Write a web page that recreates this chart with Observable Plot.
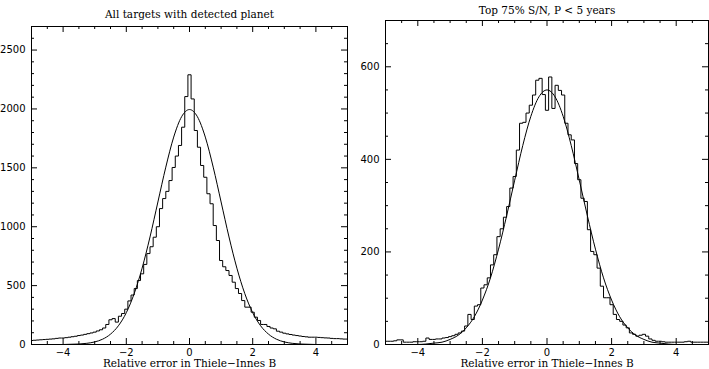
<!DOCTYPE html>
<html><head><meta charset="utf-8">
<script src="https://cdn.jsdelivr.net/npm/d3@7"></script>
<script src="https://cdn.jsdelivr.net/npm/@observablehq/plot@0.6"></script>
<style>
html,body{margin:0;padding:0;background:#fff;}
#wrap{position:relative;width:709px;height:369px;overflow:hidden;background:#fff;}
#wrap svg{position:absolute;top:0;}
</style></head><body><div id="wrap"></div>
<script>
// ---- data ----
const binCenters = [-5.0,-4.9,-4.8,-4.7,-4.6,-4.5,-4.4,-4.3,-4.2,-4.1,-4.0,-3.9,-3.8,-3.7,-3.6,-3.5,-3.4,-3.3,-3.2,-3.1,
  -3.0,-2.9,-2.8,-2.7,-2.6,-2.5,-2.4,-2.3,-2.2,-2.1,-2.0,-1.9,-1.8,-1.7,-1.6,-1.5,-1.4,-1.3,-1.2,-1.1,
  -1.0,-0.9,-0.8,-0.7,-0.6,-0.5,-0.4,-0.3,-0.2,-0.1,0.0,0.1,0.2,0.3,0.4,0.5,0.6,0.7,0.8,0.9,
  1.0,1.1,1.2,1.3,1.4,1.5,1.6,1.7,1.8,1.9,2.0,2.1,2.2,2.3,2.4,2.5,2.6,2.7,2.8,2.9,
  3.0,3.1,3.2,3.3,3.4,3.5,3.6,3.7,3.8,3.9,4.0,4.1,4.2,4.3,4.4,4.5,4.6,4.7,4.8,4.9,5.0];

const leftCounts = [34,36,38,40,42,44,46,48,52,55,55,58,62,66,70,76,80,86,92,98,
  105,115,125,140,170,210,220,190,240,263,300,370,420,475,543,600,680,772,830,911,
  1000,1154,1239,1300,1392,1503,1600,1690,1845,2105,2290,2085,1817,1675,1520,1420,1280,1195,1010,883,
  713,660,628,586,529,475,433,373,317,317,274,232,204,170,170,153,140,133,113,105,
  96,90,85,80,76,72,68,65,62,62,62,60,58,56,55,52,50,50,48,46,46];

const rightCounts = [7,7,7,8,10,10,5,5,5,6,6,6,7,14,11,11,12,12,14,15,
  17,19,22,25,29,40,65,54,83,86,122,129,144,172,194,233,250,275,298,338,
  363,420,478,480,500,517,539,571,575,540,506,578,510,560,549,539,478,453,442,391,
  356,316,309,248,201,194,165,126,101,101,86,65,54,50,42,36,25,22,18,20,
  22,18,12,9,7,7,6,5,5,5,5,5,5,6,7,5,5,5,5,5,5];

// fitted Gaussian curves
const fitX = [-5,-4.75,-4.5,-4.25,-4,-3.75,-3.5,-3.25,-3,-2.75,-2.5,-2.25,-2,-1.75,-1.5,-1.25,-1,-0.75,-0.5,-0.25,
  0,0.25,0.5,0.75,1,1.25,1.5,1.75,2,2.25,2.5,2.75,3,3.25,3.5,3.75,4,4.25,4.5,4.75,5];
const leftFit = [0,0,0,0,0,2,4,10,22,45,88,159,270,432,648,913,1210,1506,1761,1934,
  1995,1934,1761,1506,1210,913,648,432,270,159,88,45,22,10,4,2,0,0,0,0,0];
const rightFit = [0,0,0,0,0,1,3,5,11,20,36,60,96,144,206,278,355,430,493,535,
  550,535,493,430,355,278,206,144,96,60,36,20,11,5,3,1,0,0,0,0,0];

const titles = ["All targets with detected planet", "Top 75% S/N, P < 5 years"];
const xLabel = "Relative error in Thiele\u2212Innes B";
const xTickLabels = [-4, -2, 0, 2, 4];
const xMinorTicks = [-4.5,-3.5,-3,-2.5,-1.5,-1,-0.5,0.5,1,1.5,2.5,3,3.5,4.5];
const leftYTicks = [0, 500, 1000, 1500, 2000, 2500];
const leftYMinor = [100,200,300,400,600,700,800,900,1100,1200,1300,1400,1600,1700,1800,1900,2100,2200,2300,2400,2600];
const rightYTicks = [0, 200, 400, 600];
const rightYMinor = [50,100,150,250,300,350,450,500,550,650];

// ---- drawing ----
const fmt = d3.format("d");
function panel({counts, fit, yMax, yTicks, yMinor, title, width, mt, mb, ml, mr, titleDy}) {
  const H = 369;
  const fh = H - mt - mb, fw = width - ml - mr;
  const maj = 6, mnr = 3;
  const hist = binCenters.map((x, i) => ({x, y: counts[i]}));
  const curve = fitX.map((x, i) => ({x, y: fit[i]}));
  const yMajInner = yTicks.filter(v => v > 0);
  return Plot.plot({
    width, height: H, marginTop: mt, marginBottom: mb, marginLeft: ml, marginRight: mr,
    style: {fontFamily: "'DejaVu Sans', sans-serif", fontSize: "10px", background: "transparent", color: "black", overflow: "visible"},
    x: {domain: [-5, 5]},
    y: {domain: [0, yMax]},
    marks: [
      Plot.line(hist, {x: "x", y: "y", curve: "step", stroke: "black", strokeWidth: 1, clip: true}),
      Plot.line(curve, {x: "x", y: "y", curve: "monotone-x", stroke: "black", strokeWidth: 1, clip: true}),
      Plot.ruleX(xTickLabels, {insetTop: fh - maj, stroke: "black"}),
      Plot.ruleX(xTickLabels, {insetBottom: fh - maj, stroke: "black"}),
      Plot.ruleX(xMinorTicks, {insetTop: fh - mnr, stroke: "black"}),
      Plot.ruleX(xMinorTicks, {insetBottom: fh - mnr, stroke: "black"}),
      Plot.ruleY(yMajInner, {insetRight: fw - maj, stroke: "black"}),
      Plot.ruleY(yMajInner, {insetLeft: fw - maj, stroke: "black"}),
      Plot.ruleY(yMinor, {insetRight: fw - mnr, stroke: "black"}),
      Plot.ruleY(yMinor, {insetLeft: fw - mnr, stroke: "black"}),
      Plot.frame({stroke: "black"}),
      Plot.axisX({ticks: xTickLabels, tickSize: 0, tickPadding: 4, label: null, fontSize: 10, tickFormat: fmt}),
      Plot.axisY({ticks: yTicks, tickSize: 0, tickPadding: 6, label: null, fontSize: 10, tickFormat: fmt}),
      Plot.text([title], {text: d => d, frameAnchor: "top", dy: titleDy, fontFamily: "'DejaVu Serif', serif", fontSize: 10.5}),
      Plot.text([xLabel], {text: d => d, frameAnchor: "bottom", dy: 22, fontFamily: "'DejaVu Serif', serif", fontSize: 10.5})
    ]
  });
}

const wrap = document.getElementById("wrap");
const p1 = panel({counts: leftCounts, fit: leftFit, yMax: 2700, yTicks: leftYTicks, yMinor: leftYMinor,
  title: titles[0], width: 354, mt: 26, mb: 25, ml: 31, mr: 7, titleDy: -16});
p1.style.left = "0px";
wrap.appendChild(p1);
const p2 = panel({counts: rightCounts, fit: rightFit, yMax: 700, yTicks: rightYTicks, yMinor: rightYMinor,
  title: titles[1], width: 355, mt: 20, mb: 25, ml: 31, mr: 1, titleDy: -14});
p2.style.left = "354px";
wrap.appendChild(p2);
</script>
</body></html>
